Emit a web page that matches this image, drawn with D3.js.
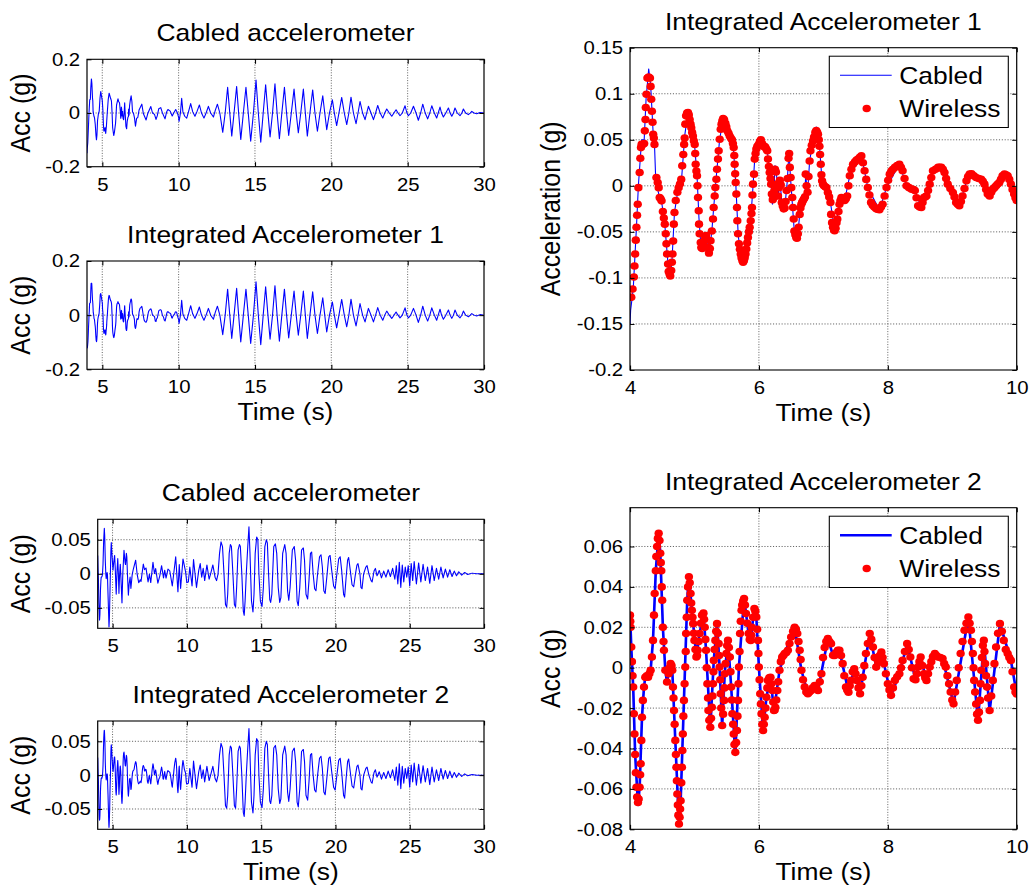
<!DOCTYPE html>
<html>
<head>
<meta charset="utf-8">
<script src="https://cdn.jsdelivr.net/npm/d3@7/dist/d3.min.js"></script>
<style>
  html, body { margin: 0; padding: 0; background: #fff; }
  svg { display: block; }
  text { font-family: "Liberation Sans", Arial, Helvetica, sans-serif; fill: #000; }
</style>
</head>
<body>
<svg id="fig" width="1030" height="890"></svg>
<script>
// ---------------- data ----------------
// Tick values
const longTimeTicks = [5, 10, 15, 20, 25, 30];
const shortTimeTicks = [4, 6, 8, 10];
const acc1Ticks = [-0.2, 0, 0.2];
const acc2Ticks = [-0.05, 0, 0.05];
const zoom1Ticks = [-0.2, -0.15, -0.1, -0.05, 0, 0.05, 0.1, 0.15];
const zoom2Ticks = [-0.08, -0.06, -0.04, -0.02, 0, 0.02, 0.04, 0.06];

const titles = ["Cabled accelerometer", "Integrated Accelerometer 1",
                "Cabled accelerometer", "Integrated Accelerometer 2"];
const legendLabels = ["Cabled", "Wireless"];

// Sensor 1, cabled record, 4-10 s  [time (s), acc (g)]
const cabled1 = [[4.0,-0.15],[4.01,-0.135],[4.05,-0.112],[4.1,-0.045],[4.13,0.0],[4.16,0.03],[4.18,0.05],[4.22,0.05],[4.25,0.095],[4.29,0.127],[4.32,0.11],[4.36,0.056],[4.38,0.045],[4.4,0.005],[4.46,-0.013],[4.49,-0.017],[4.54,-0.042],[4.59,-0.085],[4.62,-0.10],[4.65,-0.083],[4.69,-0.029],[4.75,-0.002],[4.8,0.007],[4.85,0.055],[4.9,0.08],[4.95,0.063],[5.0,0.046],[5.04,0.011],[5.07,-0.035],[5.1,-0.065],[5.12,-0.068],[5.18,-0.054],[5.225,-0.076],[5.27,-0.049],[5.32,-0.005],[5.39,0.05],[5.45,0.074],[5.55,0.054],[5.6,0.045],[5.64,0.004],[5.68,-0.055],[5.75,-0.084],[5.8,-0.07],[5.87,-0.038],[5.9,-0.01],[5.935,0.029],[6.0,0.046],[6.03,0.053],[6.07,0.043],[6.13,0.038],[6.19,0.002],[6.21,-0.02],[6.23,-0.013],[6.25,0.022],[6.27,0.015],[6.3,-0.011],[6.325,0.006],[6.36,-0.02],[6.4,-0.025],[6.44,0.005],[6.467,0.038],[6.49,0.009],[6.55,-0.05],[6.596,-0.059],[6.633,-0.031],[6.68,-0.016],[6.715,-0.013],[6.726,0.015],[6.74,0.0],[6.755,-0.008],[6.787,0.027],[6.84,0.049],[6.89,0.064],[6.94,0.043],[6.98,0.005],[7.05,-0.002],[7.11,-0.018],[7.175,-0.049],[7.25,-0.02],[7.33,-0.016],[7.41,0.011],[7.59,0.033],[7.69,-0.002],[7.87,-0.026],[7.98,-0.002],[8.18,0.024],[8.29,0.0],[8.42,-0.005],[8.52,-0.024],[8.6,-0.011],[8.7,0.016],[8.83,0.02],[8.93,0.002],[9.11,-0.022],[9.22,0.005],[9.3,0.013],[9.45,0.007],[9.58,-0.011],[9.68,0.0],[9.81,0.013],[9.91,0.002],[10.0,-0.016]];

// Sensor 1, wireless (integrated) samples, 4-10 s
const wireless1 = [[4.00,-0.121],[4.02,-0.121],[4.04,-0.112],[4.06,-0.099],[4.07,-0.087],[4.08,-0.074],[4.09,-0.059],[4.10,-0.045],[4.11,-0.032],[4.12,-0.020],[4.13,-0.002],[4.15,0.0145],[4.16,0.030],[4.17,0.0415],[4.18,0.045],[4.20,0.045],[4.22,0.046],[4.23,0.0597],[4.24,0.072],[4.245,0.085],[4.255,0.0994],[4.27,0.117],[4.29,0.118],[4.31,0.117],[4.32,0.108],[4.33,0.094],[4.34,0.081],[4.35,0.069],[4.36,0.056],[4.37,0.052],[4.38,0.045],[4.41,0.009],[4.43,0.0036],[4.445,-0.002],[4.46,-0.0127],[4.475,-0.014],[4.49,-0.0163],[4.51,-0.028],[4.525,-0.035],[4.54,-0.0416],[4.555,-0.052],[4.565,-0.063],[4.575,-0.074],[4.59,-0.085],[4.60,-0.093],[4.615,-0.096],[4.625,-0.098],[4.64,-0.092],[4.65,-0.083],[4.66,-0.074],[4.67,-0.06],[4.68,-0.0416],[4.69,-0.029],[4.71,-0.016],[4.735,-0.007],[4.755,-0.002],[4.775,0.002],[4.795,0.007],[4.81,0.0217],[4.827,0.034],[4.84,0.045],[4.848,0.052],[4.858,0.067],[4.87,0.076],[4.885,0.079],[4.90,0.0795],[4.913,0.077],[4.926,0.072],[4.94,0.067],[4.951,0.063],[4.964,0.058],[4.977,0.054],[4.99,0.049],[5.004,0.045],[5.012,0.035],[5.019,0.0235],[5.03,0.016],[5.04,0.011],[5.048,0.0],[5.055,-0.0127],[5.066,-0.027],[5.071,-0.0416],[5.08,-0.052],[5.097,-0.0615],[5.106,-0.067],[5.12,-0.068],[5.135,-0.062],[5.15,-0.06],[5.165,-0.055],[5.18,-0.054],[5.195,-0.058],[5.21,-0.067],[5.225,-0.073],[5.24,-0.068],[5.25,-0.0597],[5.27,-0.049],[5.288,-0.036],[5.298,-0.0235],[5.314,-0.011],[5.324,-0.0018],[5.34,0.0072],[5.35,0.018],[5.365,0.029],[5.376,0.038],[5.392,0.0506],[5.407,0.0615],[5.42,0.067],[5.432,0.0705],[5.445,0.073],[5.46,0.072],[5.48,0.068],[5.495,0.064],[5.51,0.0597],[5.53,0.057],[5.547,0.054],[5.565,0.052],[5.583,0.05],[5.597,0.046],[5.609,0.0415],[5.618,0.033],[5.624,0.0235],[5.632,0.013],[5.64,0.0036],[5.65,-0.009],[5.66,-0.0235],[5.665,-0.038],[5.676,-0.052],[5.69,-0.063],[5.705,-0.069],[5.718,-0.074],[5.73,-0.078],[5.743,-0.081],[5.755,-0.083],[5.768,-0.081],[5.78,-0.078],[5.793,-0.074],[5.805,-0.0687],[5.818,-0.062],[5.83,-0.056],[5.845,-0.05],[5.857,-0.045],[5.873,-0.038],[5.885,-0.03],[5.893,-0.0235],[5.90,-0.01],[5.908,0.0018],[5.924,0.0127],[5.935,0.029],[5.948,0.035],[5.96,0.04],[5.975,0.043],[5.997,0.045],[6.015,0.048],[6.03,0.05],[6.05,0.046],[6.065,0.043],[6.085,0.043],[6.10,0.042],[6.115,0.04],[6.13,0.038],[6.141,0.029],[6.155,0.021],[6.167,0.0145],[6.18,0.008],[6.19,0.0018],[6.20,-0.009],[6.215,-0.015],[6.23,-0.0127],[6.24,-0.005],[6.25,0.018],[6.265,0.015],[6.28,0.002],[6.296,-0.011],[6.31,-0.002],[6.325,0.006],[6.34,0.001],[6.355,-0.018],[6.37,-0.022],[6.385,-0.025],[6.40,-0.024],[6.415,-0.017],[6.43,-0.005],[6.445,0.008],[6.46,0.03],[6.47,0.035],[6.48,0.02],[6.493,0.009],[6.503,-0.002],[6.518,-0.0127],[6.53,-0.0235],[6.54,-0.036],[6.55,-0.049],[6.565,-0.053],[6.58,-0.056],[6.59,-0.057],[6.605,-0.052],[6.617,-0.045],[6.633,-0.031],[6.645,-0.024],[6.658,-0.02],[6.67,-0.018],[6.684,-0.016],[6.70,-0.014],[6.715,-0.012],[6.726,0.0127],[6.74,0.0],[6.755,-0.007],[6.77,0.01],[6.787,0.027],[6.80,0.038],[6.82,0.044],[6.84,0.0488],[6.855,0.053],[6.875,0.058],[6.89,0.06],[6.905,0.058],[6.917,0.056],[6.93,0.05],[6.94,0.043],[6.95,0.034],[6.96,0.0235],[6.97,0.012],[6.98,0.0054],[6.995,0.0018],[7.01,0.0],[7.03,-0.001],[7.047,-0.0018],[7.07,-0.0072],[7.09,-0.012],[7.11,-0.018],[7.12,-0.031],[7.135,-0.04],[7.15,-0.045],[7.165,-0.048],[7.175,-0.0488],[7.19,-0.046],[7.205,-0.04],[7.217,-0.036],[7.235,-0.028],[7.25,-0.02],[7.265,-0.016],[7.28,-0.0127],[7.30,-0.014],[7.33,-0.016],[7.35,-0.014],[7.37,-0.011],[7.39,0.0],[7.41,0.011],[7.435,0.018],[7.46,0.0235],[7.49,0.026],[7.515,0.028],[7.54,0.029],[7.565,0.031],[7.59,0.0325],[7.615,0.025],[7.64,0.0163],[7.665,0.007],[7.69,-0.0018],[7.715,-0.01],[7.74,-0.018],[7.765,-0.021],[7.79,-0.023],[7.82,-0.025],[7.845,-0.0255],[7.87,-0.026],[7.895,-0.023],[7.92,-0.02],[7.95,-0.011],[7.98,-0.0018],[8.005,0.006],[8.03,0.0127],[8.055,0.016],[8.08,0.018],[8.11,0.02],[8.145,0.022],[8.18,0.0235],[8.205,0.02],[8.23,0.0163],[8.26,0.008],[8.29,0.0],[8.33,-0.002],[8.37,-0.0036],[8.40,-0.004],[8.42,-0.005],[8.445,-0.013],[8.47,-0.0217],[8.495,-0.023],[8.52,-0.0235],[8.54,-0.018],[8.56,-0.0127],[8.58,-0.012],[8.60,-0.011],[8.625,-0.005],[8.65,0.0018],[8.675,0.009],[8.70,0.0163],[8.74,0.018],[8.78,0.02],[8.805,0.02],[8.83,0.02],[8.855,0.018],[8.88,0.0145],[8.905,0.008],[8.93,0.0018],[8.97,-0.003],[9.01,-0.0072],[9.035,-0.012],[9.06,-0.018],[9.085,-0.02],[9.11,-0.0217],[9.135,-0.017],[9.16,-0.011],[9.19,-0.003],[9.22,0.0054],[9.245,0.01],[9.27,0.0127],[9.30,0.013],[9.335,0.011],[9.37,0.009],[9.41,0.008],[9.45,0.0072],[9.475,0.005],[9.50,0.0018],[9.525,-0.004],[9.55,-0.009],[9.58,-0.011],[9.605,-0.007],[9.63,-0.0036],[9.655,-0.002],[9.68,0.0],[9.705,0.002],[9.73,0.0036],[9.755,0.007],[9.78,0.011],[9.81,0.0127],[9.835,0.012],[9.86,0.011],[9.885,0.007],[9.91,0.0018],[9.935,-0.004],[9.96,-0.009],[9.98,-0.013],[10.0,-0.016]];

// Sensor 1, remainder of the record, 10-30 s
const acc1Tail = [[10.03,-0.031],[10.12,0.0],[10.2,0.055],[10.28,0.005],[10.4,-0.012],[10.53,-0.019],[10.65,0.005],[10.79,0.035],[10.92,0.005],[11.07,-0.012],[11.2,0.005],[11.36,0.03],[11.5,0.0],[11.66,-0.019],[11.8,0.0],[11.95,0.025],[12.1,0.0],[12.28,-0.015],[12.4,0.01],[12.54,0.033],[12.7,0.0],[12.89,-0.072],[13.05,0.0],[13.21,0.096],[13.35,0.0],[13.48,-0.086],[13.63,0.0],[13.8,0.099],[13.93,0.0],[14.07,-0.099],[14.24,0.0],[14.41,0.096],[14.56,0.0],[14.72,-0.105],[14.9,0.0],[15.07,0.123],[15.22,0.0],[15.38,-0.109],[15.54,0.0],[15.70,0.105],[15.85,0.0],[15.99,-0.089],[16.15,0.0],[16.31,0.109],[16.45,0.0],[16.6,-0.096],[16.76,0.0],[16.93,0.096],[17.07,0.0],[17.21,-0.084],[17.38,0.0],[17.56,0.089],[17.7,0.0],[17.84,-0.074],[18.0,0.0],[18.17,0.089],[18.3,0.0],[18.43,-0.086],[18.6,0.0],[18.78,0.086],[18.93,0.0],[19.09,-0.068],[19.26,0.0],[19.44,0.064],[19.57,0.0],[19.70,-0.062],[19.88,0.0],[20.07,0.049],[20.2,0.0],[20.35,-0.047],[20.5,0.0],[20.68,0.058],[20.85,0.0],[21.01,-0.043],[21.15,0.0],[21.29,0.059],[21.45,0.0],[21.62,-0.04],[21.75,0.0],[21.88,0.043],[22.05,0.0],[22.21,-0.025],[22.32,0.0],[22.43,0.025],[22.6,0.0],[22.76,-0.025],[22.9,0.0],[23.04,0.028],[23.2,0.0],[23.37,-0.019],[23.5,0.0],[23.63,0.015],[23.8,0.0],[23.96,-0.012],[24.1,0.0],[24.24,0.012],[24.37,0.0],[24.5,-0.01],[24.65,0.0],[24.83,0.027],[24.95,0.0],[25.05,-0.01],[25.2,0.0],[25.38,0.025],[25.55,0.0],[25.7,-0.027],[25.85,0.0],[25.99,0.033],[26.15,0.0],[26.31,-0.022],[26.45,0.0],[26.58,0.027],[26.75,0.0],[26.9,-0.019],[27.0,0.0],[27.12,0.022],[27.22,0.0],[27.34,-0.015],[27.5,0.0],[27.67,0.019],[27.78,0.0],[27.89,-0.012],[28.0,0.0],[28.1,0.019],[28.25,0.0],[28.43,-0.01],[28.55,0.0],[28.65,0.015],[28.8,0.0],[28.98,-0.006],[29.1,0.0],[29.2,0.006],[29.35,0.0],[29.52,-0.003],[29.75,0.002],[30.0,0.0]];

// Sensor 2, cabled record, 4-10 s
const cabled2 = [[4.0,0.027],[4.02,0.01],[4.05,-0.01],[4.08,-0.043],[4.124,-0.068],[4.15,-0.059],[4.186,-0.0245],[4.217,-0.0096],[4.237,-0.0047],[4.28,-0.0047],[4.32,-0.0013],[4.357,0.0135],[4.4,0.048],[4.445,0.067],[4.47,0.0566],[4.51,0.02],[4.548,-0.0013],[4.574,-0.0071],[4.63,0.002],[4.656,-0.0013],[4.703,-0.036],[4.76,-0.078],[4.786,-0.066],[4.837,-0.0162],[4.888,0.0334],[4.914,0.046],[4.96,0.0284],[5.03,0.0053],[5.08,0.017],[5.14,0.027],[5.18,0.0086],[5.246,-0.03],[5.3,0.0036],[5.35,0.0225],[5.39,0.0003],[5.43,-0.029],[5.47,-0.003],[5.52,0.014],[5.57,-0.0096],[5.634,-0.043],[5.69,0.0003],[5.77,0.0345],[5.84,0.0169],[5.873,0.0135],[5.93,0.030],[5.96,0.0251],[6.0,0.0003],[6.065,-0.0315],[6.117,-0.0146],[6.18,-0.0047],[6.234,-0.0215],[6.32,-0.0013],[6.4,0.007],[6.555,0.020],[6.66,-0.0013],[6.76,-0.013],[6.865,-0.0088],[6.917,-0.0113],[7.07,0.0144],[7.15,0.0061],[7.25,0.0086],[7.39,-0.0121],[7.48,-0.0005],[7.57,-0.0129],[7.72,0.0169],[7.82,0.0003],[7.9,0.0077],[8.05,-0.0137],[8.18,-0.003],[8.3,0.0119],[8.43,-0.006],[8.51,0.0053],[8.6,-0.0063],[8.73,0.007],[8.85,0.0045],[9.02,-0.0179],[9.25,0.0251],[9.4,-0.0265],[9.49,0.0135],[9.58,-0.0215],[9.74,0.0218],[9.91,0.0036],[10.0,-0.013]];

// Sensor 2, wireless (integrated) samples, 4-10 s
const wireless2 = [[4.00,0.026],[4.005,0.023],[4.01,0.02],[4.02,0.0102],[4.03,0.003],[4.04,-0.004],[4.05,-0.0096],[4.06,-0.0228],[4.07,-0.0328],[4.08,-0.043],[4.09,-0.052],[4.10,-0.0592],[4.11,-0.064],[4.124,-0.0667],[4.135,-0.065],[4.15,-0.0592],[4.158,-0.053],[4.166,-0.0476],[4.176,-0.036],[4.186,-0.0245],[4.2,-0.0162],[4.217,-0.0096],[4.237,-0.0047],[4.26,-0.004],[4.28,-0.0047],[4.30,-0.003],[4.32,-0.0013],[4.34,0.0053],[4.357,0.0135],[4.372,0.026],[4.383,0.0367],[4.40,0.048],[4.408,0.055],[4.42,0.06],[4.432,0.064],[4.445,0.0665],[4.458,0.063],[4.47,0.0566],[4.478,0.052],[4.486,0.048],[4.493,0.04],[4.50,0.0334],[4.51,0.020],[4.52,0.013],[4.527,0.0086],[4.548,-0.0013],[4.574,-0.0071],[4.60,-0.003],[4.615,0.0],[4.63,0.002],[4.645,0.001],[4.656,-0.0013],[4.667,-0.0096],[4.675,-0.015],[4.683,-0.0212],[4.693,-0.028],[4.703,-0.036],[4.712,-0.043],[4.72,-0.0493],[4.727,-0.056],[4.734,-0.0625],[4.742,-0.068],[4.75,-0.073],[4.76,-0.0774],[4.77,-0.074],[4.778,-0.07],[4.786,-0.0659],[4.796,-0.057],[4.806,-0.0493],[4.813,-0.041],[4.82,-0.0328],[4.828,-0.024],[4.837,-0.0162],[4.847,-0.008],[4.858,0.0003],[4.865,0.008],[4.87,0.0169],[4.88,0.025],[4.888,0.0334],[4.9,0.04],[4.914,0.045],[4.927,0.042],[4.94,0.0367],[4.95,0.032],[4.96,0.0284],[4.97,0.025],[4.98,0.0218],[4.99,0.017],[5.0,0.0135],[5.015,0.009],[5.03,0.0053],[5.04,0.006],[5.05,0.0086],[5.065,0.013],[5.08,0.0169],[5.1,0.022],[5.117,0.026],[5.14,0.027],[5.15,0.024],[5.16,0.020],[5.17,0.014],[5.18,0.0086],[5.19,0.0],[5.2,-0.008],[5.21,-0.015],[5.217,-0.0212],[5.23,-0.026],[5.246,-0.0295],[5.258,-0.025],[5.27,-0.0196],[5.28,-0.014],[5.288,-0.008],[5.295,-0.002],[5.30,0.0036],[5.312,0.009],[5.324,0.0135],[5.337,0.018],[5.35,0.0218],[5.363,0.017],[5.376,0.0119],[5.383,0.006],[5.39,0.0003],[5.4,-0.006],[5.407,-0.0129],[5.415,-0.02],[5.43,-0.0286],[5.445,-0.023],[5.46,-0.0162],[5.465,-0.01],[5.47,-0.003],[5.483,0.002],[5.495,0.007],[5.507,0.011],[5.52,0.0135],[5.535,0.01],[5.55,0.0053],[5.56,-0.002],[5.57,-0.0096],[5.58,-0.016],[5.588,-0.0228],[5.6,-0.028],[5.609,-0.0328],[5.62,-0.038],[5.634,-0.0419],[5.647,-0.037],[5.66,-0.0311],[5.668,-0.024],[5.676,-0.0162],[5.683,-0.008],[5.69,0.0003],[5.7,0.008],[5.707,0.0169],[5.718,0.023],[5.73,0.0284],[5.74,0.031],[5.755,0.033],[5.77,0.0342],[5.785,0.031],[5.8,0.0268],[5.82,0.022],[5.84,0.0169],[5.857,0.014],[5.873,0.0135],[5.883,0.016],[5.89,0.020],[5.91,0.025],[5.93,0.0293],[5.945,0.028],[5.96,0.0251],[5.973,0.019],[5.986,0.0135],[5.993,0.007],[6.0,0.0003],[6.01,-0.006],[6.02,-0.0129],[6.03,-0.018],[6.04,-0.0228],[6.052,-0.028],[6.065,-0.0311],[6.077,-0.028],[6.09,-0.0245],[6.103,-0.02],[6.117,-0.0146],[6.13,-0.01],[6.14,-0.0063],[6.16,-0.005],[6.18,-0.0047],[6.195,-0.008],[6.21,-0.0113],[6.222,-0.017],[6.234,-0.0212],[6.245,-0.021],[6.255,-0.0196],[6.27,-0.016],[6.286,-0.0113],[6.3,-0.007],[6.32,-0.0013],[6.34,0.003],[6.36,0.0053],[6.38,0.006],[6.4,0.007],[6.425,0.0075],[6.45,0.0086],[6.475,0.012],[6.5,0.0152],[6.53,0.018],[6.555,0.020],[6.575,0.019],[6.596,0.0169],[6.615,0.013],[6.633,0.0086],[6.648,0.004],[6.66,-0.0013],[6.685,-0.006],[6.71,-0.0096],[6.735,-0.012],[6.76,-0.0129],[6.785,-0.012],[6.81,-0.0113],[6.835,-0.01],[6.865,-0.0088],[6.89,-0.01],[6.917,-0.0113],[6.945,-0.007],[6.97,-0.003],[6.995,0.005],[7.02,0.01],[7.045,0.013],[7.07,0.0144],[7.095,0.013],[7.12,0.0119],[7.15,0.0061],[7.175,0.006],[7.2,0.0075],[7.225,0.0086],[7.25,0.0086],[7.275,0.006],[7.3,0.002],[7.325,-0.004],[7.35,-0.0096],[7.37,-0.011],[7.39,-0.0121],[7.41,-0.009],[7.43,-0.0063],[7.455,-0.002],[7.48,-0.0005],[7.5,-0.003],[7.52,-0.0063],[7.545,-0.01],[7.57,-0.0129],[7.59,-0.009],[7.61,-0.0047],[7.635,0.001],[7.66,0.007],[7.69,0.012],[7.72,0.0169],[7.745,0.014],[7.77,0.0102],[7.795,0.005],[7.82,0.0003],[7.85,0.003],[7.875,0.006],[7.9,0.0077],[7.92,0.005],[7.94,0.002],[7.97,-0.003],[8.0,-0.008],[8.025,-0.011],[8.05,-0.0137],[8.08,-0.01],[8.11,-0.0063],[8.145,-0.0045],[8.18,-0.003],[8.205,0.0],[8.23,0.0036],[8.265,0.008],[8.3,0.0119],[8.325,0.009],[8.35,0.0053],[8.375,0.0],[8.4,-0.0055],[8.43,-0.006],[8.45,-0.003],[8.47,0.0003],[8.49,0.003],[8.51,0.0053],[8.535,0.001],[8.56,-0.003],[8.58,-0.005],[8.6,-0.0063],[8.625,-0.003],[8.65,0.0003],[8.675,0.003],[8.7,0.0055],[8.73,0.007],[8.755,0.006],[8.78,0.0053],[8.815,0.005],[8.85,0.0045],[8.875,0.002],[8.9,0.0003],[8.925,-0.004],[8.95,-0.008],[8.975,-0.012],[9.0,-0.016],[9.02,-0.0179],[9.045,-0.012],[9.07,-0.0063],[9.1,0.0],[9.13,0.007],[9.16,0.013],[9.19,0.0185],[9.22,0.022],[9.25,0.0251],[9.27,0.022],[9.29,0.0185],[9.305,0.013],[9.32,0.007],[9.33,0.0],[9.34,-0.0063],[9.355,-0.012],[9.37,-0.018],[9.385,-0.023],[9.4,-0.026],[9.415,-0.022],[9.43,-0.0162],[9.44,-0.008],[9.45,-0.0013],[9.46,0.005],[9.475,0.011],[9.49,0.0135],[9.5,0.008],[9.51,0.002],[9.525,-0.004],[9.54,-0.0096],[9.555,-0.015],[9.58,-0.0212],[9.605,-0.014],[9.63,-0.0063],[9.655,0.002],[9.68,0.0102],[9.71,0.017],[9.74,0.0218],[9.77,0.018],[9.8,0.0135],[9.83,0.009],[9.86,0.007],[9.885,0.005],[9.91,0.0036],[9.935,-0.002],[9.96,-0.0096],[9.98,-0.012],[10.0,-0.013]];

// Sensor 2, remainder of the record, 10-30 s
const acc2Tail = [[10.1,-0.012],[10.2,0.01],[10.35,-0.018],[10.45,0.021],[10.55,0.0],[10.65,-0.02],[10.8,0.005],[10.9,0.015],[11.0,-0.005],[11.1,0.008],[11.2,-0.01],[11.35,0.013],[11.5,-0.008],[11.6,0.0],[11.75,0.013],[11.9,-0.005],[12.0,-0.01],[12.1,0.0],[12.2,0.03],[12.3,0.047],[12.4,0.04],[12.5,0.0],[12.6,-0.045],[12.68,-0.049],[12.75,-0.03],[12.85,0.03],[12.93,0.043],[13.0,0.04],[13.1,0.0],[13.2,-0.045],[13.28,-0.049],[13.35,-0.02],[13.45,0.035],[13.54,0.043],[13.6,0.04],[13.7,0.0],[13.8,-0.055],[13.86,-0.061],[13.92,-0.04],[14.0,0.0],[14.1,0.04],[14.18,0.069],[14.25,0.03],[14.35,-0.04],[14.45,-0.056],[14.52,-0.03],[14.6,0.03],[14.7,0.054],[14.78,0.05],[14.85,0.0],[14.95,-0.04],[15.06,-0.048],[15.15,-0.02],[15.25,0.04],[15.35,0.05],[15.42,0.045],[15.5,0.0],[15.58,-0.038],[15.64,-0.042],[15.72,-0.03],[15.85,0.04],[15.96,0.044],[16.05,0.03],[16.15,-0.02],[16.25,-0.042],[16.33,-0.035],[16.45,0.03],[16.59,0.043],[16.68,0.03],[16.78,-0.025],[16.86,-0.039],[16.95,-0.02],[17.1,0.035],[17.23,0.04],[17.32,0.02],[17.42,-0.04],[17.5,-0.047],[17.6,-0.02],[17.72,0.035],[17.84,0.038],[17.92,0.02],[18.02,-0.03],[18.13,-0.037],[18.22,-0.01],[18.32,0.03],[18.4,0.032],[18.5,0.0],[18.6,-0.022],[18.69,-0.025],[18.8,0.0],[18.93,0.025],[19.03,0.028],[19.12,0.01],[19.22,-0.025],[19.31,-0.029],[19.42,-0.005],[19.55,0.025],[19.64,0.027],[19.75,0.005],[19.88,-0.018],[19.98,-0.022],[20.1,0.0],[20.22,0.022],[20.32,0.025],[20.42,0.005],[20.55,-0.03],[20.62,-0.034],[20.72,-0.005],[20.82,0.02],[20.89,0.024],[21.0,0.005],[21.12,-0.016],[21.23,-0.019],[21.35,0.0],[21.45,0.013],[21.52,0.015],[21.65,0.0],[21.72,-0.02],[21.79,-0.022],[21.9,0.0],[22.05,0.01],[22.13,0.012],[22.25,0.0],[22.4,-0.01],[22.47,-0.012],[22.6,0.004],[22.69,0.008],[22.8,-0.003],[22.95,0.005],[23.1,-0.006],[23.25,0.004],[23.4,-0.005],[23.55,0.006],[23.7,-0.004],[23.85,0.008],[24.0,-0.008],[24.1,0.012],[24.2,-0.015],[24.3,0.017],[24.4,-0.02],[24.5,0.013],[24.6,-0.012],[24.7,0.01],[24.8,-0.005],[24.9,0.012],[25.0,-0.018],[25.1,0.015],[25.2,-0.01],[25.3,0.018],[25.45,-0.015],[25.6,0.016],[25.75,-0.012],[25.9,0.014],[26.05,-0.01],[26.2,0.01],[26.35,-0.014],[26.5,0.012],[26.65,-0.01],[26.8,0.008],[26.95,-0.008],[27.1,0.01],[27.25,-0.006],[27.4,0.007],[27.55,-0.005],[27.7,0.006],[27.85,-0.004],[28.0,0.004],[28.15,-0.003],[28.3,0.003],[28.5,-0.002],[28.7,0.002],[28.9,-0.001],[29.2,0.001],[29.5,0.0],[30.0,0.0]];

// ---------------- drawing ----------------
const SX = 1.1;                 // the figure is drawn 10% wider than tall units
const VW = 1030 / SX;
const px = v => v / SX;         // horizontal pixel -> view units
const DOT_R = 3.8;

const svg = d3.select("#fig")
  .attr("viewBox", `0 0 ${VW} 890`)
  .attr("preserveAspectRatio", "none");
const defs = svg.append("defs");

const fmtNum = d => {
  const r = +d.toFixed(4);
  return r === 0 ? "0" : String(r);
};

let clipCount = 0;

function drawPanel(p) {
  const x = d3.scaleLinear().domain(p.xDomain).range([px(p.left), px(p.right)]);
  const y = d3.scaleLinear().domain(p.yDomain).range([p.bottom, p.top]);
  const x0 = px(p.left), x1 = px(p.right);
  const g = svg.append("g");

  const clipId = "clip" + (clipCount++);
  defs.append("clipPath").attr("id", clipId)
    .append("rect").attr("x", x0).attr("y", p.top)
    .attr("width", x1 - x0).attr("height", p.bottom - p.top);

  g.append("rect").attr("x", x0).attr("y", p.top)
    .attr("width", x1 - x0).attr("height", p.bottom - p.top)
    .attr("fill", "#fff");

  // dotted grid
  const eps = 1e-9;
  const gx = p.xTicks.filter(t => t > p.xDomain[0] + eps && t < p.xDomain[1] - eps);
  const gy = p.yTicks.filter(t => t > p.yDomain[0] + eps && t < p.yDomain[1] - eps);
  const grid = g.append("g").attr("stroke", "#5a5a5a").attr("stroke-width", 0.9)
    .attr("stroke-dasharray", "1,1.6");
  grid.selectAll("line.gx").data(gx).join("line").attr("class", "gx")
    .attr("x1", d => x(d)).attr("x2", d => x(d)).attr("y1", p.top).attr("y2", p.bottom);
  grid.selectAll("line.gy").data(gy).join("line").attr("class", "gy")
    .attr("x1", x0).attr("x2", x1).attr("y1", d => y(d)).attr("y2", d => y(d));

  const plot = g.append("g").attr("clip-path", `url(#${clipId})`);
  const line = d3.line().x(d => x(d[0])).y(d => y(d[1]));
  plot.append("path").datum(p.line)
    .attr("d", line).attr("fill", "none")
    .attr("stroke", "#0000ff").attr("stroke-width", p.lineWidth)
    .attr("stroke-linejoin", "round");

  if (p.dots) {
    plot.append("g").attr("fill", "#ff0000")
      .selectAll("circle").data(p.dots).join("circle")
      .attr("cx", d => x(d[0])).attr("cy", d => y(d[1])).attr("r", DOT_R);
  }

  // axes: inward ticks on all four sides
  const tick = 4.5;
  const styleAxis = sel => {
    sel.select(".domain").remove();
    sel.attr("font-size", 18.5).attr("font-family", null).attr("color", "#000");
    sel.selectAll(".tick line").attr("stroke-width", 1);
  };
  g.append("g").attr("transform", `translate(0,${p.bottom})`)
    .call(d3.axisBottom(x).tickValues(p.xTicks).tickSizeInner(-tick).tickSizeOuter(0)
      .tickPadding(11).tickFormat(fmtNum)).call(styleAxis);
  g.append("g").attr("transform", `translate(0,${p.top})`)
    .call(d3.axisTop(x).tickValues(p.xTicks).tickSizeInner(-tick).tickSizeOuter(0)
      .tickFormat(() => "")).call(styleAxis);
  g.append("g").attr("transform", `translate(${x0},0)`)
    .call(d3.axisLeft(y).tickValues(p.yTicks).tickSizeInner(-tick / SX).tickSizeOuter(0)
      .tickPadding(6.2).tickFormat(fmtNum)).call(styleAxis);
  g.append("g").attr("transform", `translate(${x1},0)`)
    .call(d3.axisRight(y).tickValues(p.yTicks).tickSizeInner(-tick / SX).tickSizeOuter(0)
      .tickFormat(() => "")).call(styleAxis);

  g.append("rect").attr("x", x0).attr("y", p.top)
    .attr("width", x1 - x0).attr("height", p.bottom - p.top)
    .attr("fill", "none").attr("stroke", "#000").attr("stroke-width", 1.1);

  const cx = (x0 + x1) / 2;
  g.append("text").attr("x", cx).attr("y", p.top - 18)
    .attr("text-anchor", "middle").attr("font-size", 24).text(p.title);

  g.append("text")
    .attr("transform", `translate(${px(p.ylabelX)},${(p.top + p.bottom) / 2}) rotate(-90)`)
    .attr("text-anchor", "middle").attr("font-size", 25).text(p.ylabel);

  if (p.xlabel) {
    g.append("text").attr("x", cx).attr("y", p.bottom + 51)
      .attr("text-anchor", "middle").attr("font-size", 24).text(p.xlabel);
  }

  if (p.legend) {
    const L = p.legend;
    const lx0 = px(829.3), lx1 = px(1008.3), ly = p.top + 8.5;
    const lg = g.append("g");
    lg.append("rect").attr("x", lx0).attr("y", ly).attr("width", lx1 - lx0).attr("height", 71.3)
      .attr("fill", "#fff").attr("stroke", "#000").attr("stroke-width", 1);
    const row1 = ly + 19, row2 = ly + 52.3;
    lg.append("line").attr("x1", px(840)).attr("x2", px(891.7)).attr("y1", row1).attr("y2", row1)
      .attr("stroke", "#0000ff").attr("stroke-width", L.lineWidth);
    lg.append("circle").attr("cx", px(866.7)).attr("cy", row2).attr("r", DOT_R).attr("fill", "#ff0000");
    lg.append("text").attr("x", px(899.3)).attr("y", row1 + 8.8).attr("font-size", 24).text(legendLabels[0]);
    lg.append("text").attr("x", px(899.3)).attr("y", row2 + 8.8).attr("font-size", 24).text(legendLabels[1]);
  }
}

// left column: full 4-30 s records
drawPanel({ left: 87, right: 484, top: 59.3, bottom: 166.7,
  xDomain: [4, 30], yDomain: [-0.2, 0.2], xTicks: longTimeTicks, yTicks: acc1Ticks,
  title: titles[0], ylabel: "Acc (g)", ylabelX: 30.5, lineWidth: 1,
  line: cabled1.concat(acc1Tail) });

drawPanel({ left: 87, right: 484, top: 261, bottom: 369.3,
  xDomain: [4, 30], yDomain: [-0.2, 0.2], xTicks: longTimeTicks, yTicks: acc1Ticks,
  title: titles[1], ylabel: "Acc (g)", ylabelX: 30.5, xlabel: "Time (s)", lineWidth: 1,
  line: wireless1.concat(acc1Tail) });

drawPanel({ left: 97.7, right: 484, top: 519.3, bottom: 628.3,
  xDomain: [4, 30], yDomain: [-0.08, 0.08], xTicks: longTimeTicks, yTicks: acc2Ticks,
  title: titles[2], ylabel: "Acc (g)", ylabelX: 30.5, lineWidth: 1,
  line: cabled2.concat(acc2Tail) });

drawPanel({ left: 97.7, right: 484, top: 721, bottom: 829.3,
  xDomain: [4, 30], yDomain: [-0.08, 0.08], xTicks: longTimeTicks, yTicks: acc2Ticks,
  title: titles[3], ylabel: "Acc (g)", ylabelX: 30.5, xlabel: "Time (s)", lineWidth: 1,
  line: wireless2.concat(acc2Tail) });

// right column: 4-10 s comparison of cabled and wireless
drawPanel({ left: 630, right: 1016.7, top: 47.7, bottom: 370,
  xDomain: [4, 10], yDomain: [-0.2, 0.15], xTicks: shortTimeTicks, yTicks: zoom1Ticks,
  title: titles[1], ylabel: "Acceleration (g)", ylabelX: 559.5, xlabel: "Time (s)",
  lineWidth: 1, line: cabled1, dots: wireless1, legend: { lineWidth: 1 } });

drawPanel({ left: 630, right: 1016.7, top: 507.7, bottom: 829.3,
  xDomain: [4, 10], yDomain: [-0.08, 0.0792], xTicks: shortTimeTicks, yTicks: zoom2Ticks,
  title: titles[3], ylabel: "Acc (g)", ylabelX: 559.5, xlabel: "Time (s)",
  lineWidth: 2.4, line: cabled2, dots: wireless2, legend: { lineWidth: 2.4 } });
</script>
</body>
</html>
